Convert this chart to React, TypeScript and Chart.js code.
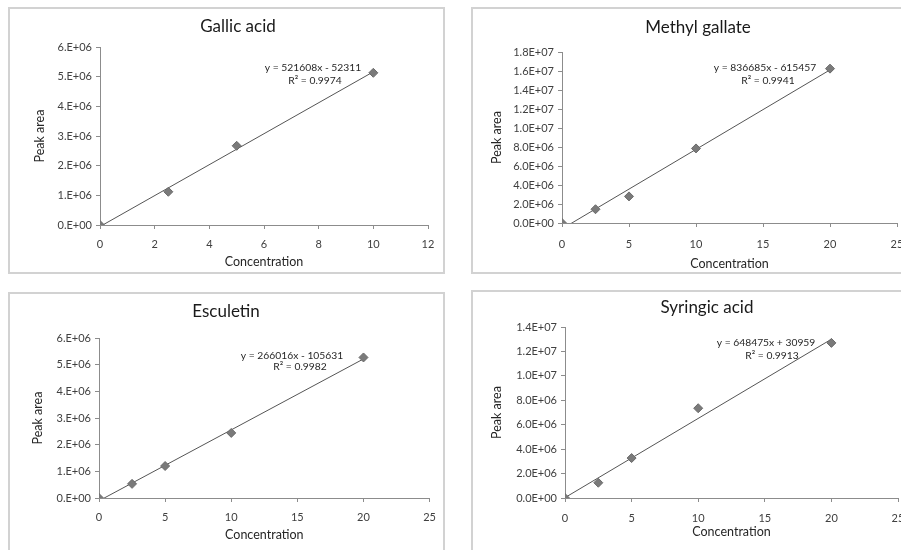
import React, { useEffect, useRef } from "react";
import { Chart, registerables } from "chart.js";

Chart.register(...registerables);

// ---------- Data ----------
// Gallic acid
const gallicConc = [0, 2.5, 5, 10];
const gallicArea = [0, 1.12e6, 2.67e6, 5.13e6];
const gallicTrendX = [0, 10];
const gallicTrendY = [-52311, 5163769]; // y = 521608x - 52311
const gallicXTicks = ["0", "2", "4", "6", "8", "10", "12"];
const gallicYTicks = ["0.E+00", "1.E+06", "2.E+06", "3.E+06", "4.E+06", "5.E+06", "6.E+06"];

// Methyl gallate
const methylConc = [0, 2.5, 5, 10, 20];
const methylArea = [0, 1.45e6, 2.8e6, 7.85e6, 1.625e7];
const methylTrendX = [0, 20];
const methylTrendY = [-615457, 16118243]; // y = 836685x - 615457
const methylXTicks = ["0", "5", "10", "15", "20", "25"];
const methylYTicks = ["0.0E+00", "2.0E+06", "4.0E+06", "6.0E+06", "8.0E+06", "1.0E+07", "1.2E+07", "1.4E+07", "1.6E+07", "1.8E+07"];

// Esculetin
const escConc = [0, 2.5, 5, 10, 20];
const escArea = [0, 0.53e6, 1.2e6, 2.44e6, 5.27e6];
const escTrendX = [0, 20];
const escTrendY = [-105631, 5214689]; // y = 266016x - 105631
const escXTicks = ["0", "5", "10", "15", "20", "25"];
const escYTicks = ["0.E+00", "1.E+06", "2.E+06", "3.E+06", "4.E+06", "5.E+06", "6.E+06"];

// Syringic acid
const syrConc = [0, 2.5, 5, 10, 20];
const syrArea = [0, 1.25e6, 3.27e6, 7.35e6, 1.27e7];
const syrTrendX = [0, 20];
const syrTrendY = [30959, 13000459]; // y = 648475x + 30959
const syrXTicks = ["0", "5", "10", "15", "20", "25"];
const syrYTicks = ["0.0E+00", "2.0E+06", "4.0E+06", "6.0E+06", "8.0E+06", "1.0E+07", "1.2E+07", "1.4E+07"];

const FONT = "Lato, 'Open Sans', 'DejaVu Sans', sans-serif";

type Spec = {
  title: string;
  eq: string;
  r2: string;
  x: number[];
  y: number[];
  tx: number[];
  ty: number[];
  xTicks: string[];
  yTicks: string[];
  xStep: number;
  yStep: number;
  box: { x: number; y: number; w: number; h: number };
  plot: { L: number; T: number; R: number; B: number };
  titlePos: [number, number];
  eqPos: [number, number];
  r2Pos: [number, number];
  yTitleX: number;
  xTitleY: number;
  xTickPad: number;
};

const specs: Spec[] = [
  {
    title: "Gallic acid",
    eq: "y = 521608x - 52311",
    r2: "R\u00b2 = 0.9974",
    x: gallicConc, y: gallicArea, tx: gallicTrendX, ty: gallicTrendY,
    xTicks: gallicXTicks, yTicks: gallicYTicks, xStep: 2, yStep: 1e6,
    box: { x: 8, y: 7, w: 437, h: 267 },
    plot: { L: 100, T: 47, R: 428, B: 225 },
    titlePos: [238, 27], eqPos: [313, 68], r2Pos: [315, 81],
    yTitleX: 40, xTitleY: 262, xTickPad: 9,
  },
  {
    title: "Methyl gallate",
    eq: "y = 836685x - 615457",
    r2: "R\u00b2 = 0.9941",
    x: methylConc, y: methylArea, tx: methylTrendX, ty: methylTrendY,
    xTicks: methylXTicks, yTicks: methylYTicks, xStep: 5, yStep: 2e6,
    box: { x: 471, y: 7, w: 460, h: 267 },
    plot: { L: 562, T: 52, R: 897, B: 223 },
    titlePos: [698, 28], eqPos: [765, 68], r2Pos: [768, 81],
    yTitleX: 497, xTitleY: 264, xTickPad: 11,
  },
  {
    title: "Esculetin",
    eq: "y = 266016x - 105631",
    r2: "R\u00b2 = 0.9982",
    x: escConc, y: escArea, tx: escTrendX, ty: escTrendY,
    xTicks: escXTicks, yTicks: escYTicks, xStep: 5, yStep: 1e6,
    box: { x: 8, y: 292, w: 437, h: 270 },
    plot: { L: 99, T: 338, R: 430, B: 498 },
    titlePos: [226, 312], eqPos: [292, 356], r2Pos: [300, 367],
    yTitleX: 38, xTitleY: 535, xTickPad: 9,
  },
  {
    title: "Syringic acid",
    eq: "y = 648475x + 30959",
    r2: "R\u00b2 = 0.9913",
    x: syrConc, y: syrArea, tx: syrTrendX, ty: syrTrendY,
    xTicks: syrXTicks, yTicks: syrYTicks, xStep: 5, yStep: 2e6,
    box: { x: 471, y: 290, w: 460, h: 272 },
    plot: { L: 565, T: 327, R: 898, B: 498 },
    titlePos: [707, 308], eqPos: [766, 343], r2Pos: [772, 356],
    yTitleX: 497, xTitleY: 532, xTickPad: 10,
  },
];

const AXIS = "#8c8c8c";

function Panel({ spec }: { spec: Spec }) {
  const ref = useRef<HTMLCanvasElement>(null);
  useEffect(() => {
    const canvas = ref.current;
    if (!canvas) return;
    const { box, plot } = spec;
    const padTop = plot.T - box.y;
    const padRight = box.x + box.w - plot.R;
    const yW = plot.L - box.x;
    const xH = box.y + box.h - plot.B;
    const axisTitleSize = 12.5;
    const axisTitleLH = 15;
    const yTitlePad = spec.yTitleX - box.x - axisTitleLH / 2;
    const xTitlePad = box.y + box.h - spec.xTitleY - axisTitleLH / 2;

    const textPlugin = {
      id: "panelText",
      afterDraw(chart: any) {
        const ctx = chart.ctx as CanvasRenderingContext2D;
        ctx.save();
        ctx.textAlign = "center";
        ctx.textBaseline = "middle";
        ctx.fillStyle = "#1a1a1a";
        ctx.font = `17px ${FONT}`;
        ctx.fillText(spec.title, spec.titlePos[0] - box.x, spec.titlePos[1] - box.y);
        ctx.font = `10.3px ${FONT}`;
        ctx.fillStyle = "#262626";
        ctx.fillText(spec.eq, spec.eqPos[0] - box.x, spec.eqPos[1] - box.y);
        ctx.fillText(spec.r2, spec.r2Pos[0] - box.x, spec.r2Pos[1] - box.y);
        ctx.restore();
      },
    };

    const xMax = spec.xStep * (spec.xTicks.length - 1);
    const yMax = spec.yStep * (spec.yTicks.length - 1);

    const chart = new Chart(canvas, {
      type: "scatter",
      data: {
        datasets: [
          {
            data: spec.x.map((v, i) => ({ x: v, y: spec.y[i] })),
            showLine: false,
            pointStyle: "rectRot",
            pointRadius: 4.5,
            backgroundColor: "#7a7a7a",
            borderColor: "#6a6a6a",
            borderWidth: 1,
          },
          {
            data: spec.tx.map((v, i) => ({ x: v, y: spec.ty[i] })),
            showLine: true,
            pointRadius: 0,
            borderColor: "#555555",
            borderWidth: 1,
            fill: false,
          },
        ],
      },
      options: {
        responsive: false,
        animation: false,
        events: [],
        layout: { padding: { left: 0, top: padTop, right: padRight, bottom: 0 } },
        plugins: { legend: { display: false }, tooltip: { enabled: false }, title: { display: false } },
        scales: {
          x: {
            type: "linear",
            min: 0,
            max: xMax,
            afterFit: (s: any) => { s.height = xH; },
            ticks: {
              stepSize: spec.xStep,
              autoSkip: false,
              maxRotation: 0,
              padding: spec.xTickPad,
              color: "#404040",
              font: { family: FONT, size: 11 },
              callback: (v: any) => spec.xTicks[Math.round(Number(v) / spec.xStep)] ?? "",
            },
            grid: { display: true, drawOnChartArea: false, drawTicks: true, tickLength: 4, color: AXIS },
            border: { display: true, color: AXIS, width: 1 },
            title: {
              display: true,
              text: "Concentration",
              color: "#262626",
              font: { family: FONT, size: axisTitleSize, lineHeight: axisTitleLH / axisTitleSize },
              padding: { top: 0, bottom: xTitlePad },
            },
          },
          y: {
            type: "linear",
            min: 0,
            max: yMax,
            afterFit: (s: any) => { s.width = yW; },
            ticks: {
              stepSize: spec.yStep,
              autoSkip: false,
              padding: 4,
              color: "#404040",
              font: { family: FONT, size: 11 },
              callback: (v: any) => spec.yTicks[Math.round(Number(v) / spec.yStep)] ?? "",
            },
            grid: { display: true, drawOnChartArea: false, drawTicks: true, tickLength: 4, color: AXIS },
            border: { display: true, color: AXIS, width: 1 },
            title: {
              display: true,
              text: "Peak area",
              color: "#262626",
              font: { family: FONT, size: axisTitleSize, lineHeight: axisTitleLH / axisTitleSize },
              padding: { top: yTitlePad, bottom: 0 },
            },
          },
        },
      },
      plugins: [textPlugin],
    } as any);
    return () => chart.destroy();
  }, [spec]);

  const { box } = spec;
  return (
    <>
      <div
        style={{
          position: "absolute",
          left: box.x,
          top: box.y,
          width: box.w,
          height: box.h,
          border: "2px solid #d2d2d2",
          boxSizing: "border-box",
        }}
      />
      <canvas
        ref={ref}
        width={box.w}
        height={box.h}
        style={{ position: "absolute", left: box.x, top: box.y, width: box.w, height: box.h }}
      />
    </>
  );
}

export default function App() {
  return (
    <div
      style={{
        position: "absolute",
        left: 0,
        top: 0,
        width: 901,
        height: 550,
        overflow: "hidden",
        background: "#ffffff",
      }}
    >
      {specs.map((s) => (
        <Panel key={s.title} spec={s} />
      ))}
    </div>
  );
}
